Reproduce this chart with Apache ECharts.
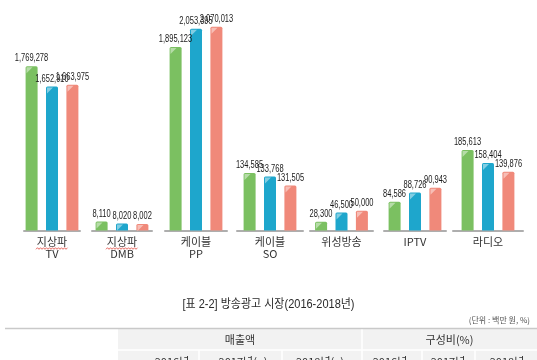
<!DOCTYPE html>
<html><head><meta charset="utf-8">
<script src="https://cdn.jsdelivr.net/npm/echarts@6/dist/echarts.min.js"></script>
<style>html,body{margin:0;padding:0;background:#fff}#c{width:537px;height:360px}</style>
</head><body><div id="c"></div>
<script>
const categories = ['지상파\nTV', '지상파\nDMB', '케이블\nPP', '케이블\nSO', '위성방송', 'IPTV', '라디오'];
const sales2016 = [1769278, 8110, 1895123, 134585, 28300, 84586, 185613];
const sales2017 = [1652910, 8020, 2053395, 133768, 46500, 88726, 158404];
const sales2018 = [1663975, 8002, 2070013, 131505, 50000, 90943, 139876];
const seriesSets = [sales2016, sales2017, sales2018];
const colors = ['#7bc061', '#1ea6cc', '#f0897a'];
// per-group (broken) value axis ranges, as in the infographic
const axisMin = [833000, 7721, 303300, 120330, 10940, 71510, 15930];
const axisMax = [2089500, 17247, 2216400, 175080, 445990, 171620, 480740];
const gridLeft = [24, 92, 165, 237, 310, 384, 453];
const gridWidth = [56, 60, 62, 66, 63, 62, 70];
const tableHead = ['매출액', '구성비(%)'];
const tableSub = ['2016년', '2017년(p)', '2018년(e)', '2016년', '2017년', '2018년'];
const tableSubX = [172, 243, 320, 390, 448, 507];

const chart = echarts.init(document.getElementById('c'));
const grid = [], xAxis = [], yAxis = [], series = [];
const BW = 12, STEP = 20.5;
categories.forEach((cat, i) => {
  grid.push({left: gridLeft[i], width: gridWidth[i], top: 10, bottom: 129.5});
  xAxis.push({
    type: 'category', gridIndex: i, data: [cat],
    axisLine: {lineStyle: {color: '#aeaeae', width: 2}},
    axisTick: {show: false},
    axisLabel: {color: '#333', fontSize: 11, lineHeight: 12, margin: 5,
      fontFamily: "'Noto Sans CJK KR', 'Noto Sans', sans-serif", interval: 0}
  });
  yAxis.push({type: 'value', gridIndex: i, min: axisMin[i], max: axisMax[i], show: false});
  seriesSets.forEach((arr, k) => {
    series.push({
      type: 'bar', xAxisIndex: i, yAxisIndex: i, data: [arr[i]],
      barWidth: BW, barGap: '70%',
      itemStyle: {color: colors[k], borderRadius: [1.5, 1.5, 0, 0]},
      z: 2
    });
  });
  // highlight triangle + condensed value label on each bar
  series.push({
    type: 'custom', xAxisIndex: i, yAxisIndex: i,
    data: seriesSets.map((arr, k) => [0, arr[i], k]),
    renderItem: (params, api) => {
      const pt = api.coord([api.value(0), api.value(1)]);
      const k = api.value(2);
      const cx = pt[0] + (k - 1) * STEP;
      const left = cx - BW / 2;
      const top = pt[1];
      return {type: 'group', children: [
        {type: 'polygon', shape: {points: [[left + 1, top + 1], [left + 7, top + 1], [left + 1, top + 7]]},
          style: {fill: 'rgba(255,255,255,0.45)'}, z2: 5},
        {type: 'text', x: cx, y: top - 2.5, scaleX: 0.75,
          style: {text: api.value(1).toLocaleString('en-US'), fill: '#1a1a1a',
            font: "10px 'Liberation Sans', sans-serif", align: 'center', verticalAlign: 'bottom'}, z2: 6}
      ]};
    },
    z: 3, silent: true
  });
});

const graphic = [
  {type: 'text', x: 268.5, y: 305, style: {text: '[표 2-2] 방송광고 시장(2016-2018년)', fill: '#2a2a2a',
    font: "12.5px 'Liberation Sans', 'Noto Sans CJK KR'", align: 'center', verticalAlign: 'middle'}, scaleX: 0.88},
  {type: 'text', x: 530, y: 320, style: {text: '(단위 : 백만 원, %)', fill: '#555',
    font: "8px 'Noto Sans CJK KR'", align: 'right', verticalAlign: 'middle'}},
  {type: 'rect', shape: {x: 118, y: 329, width: 419, height: 31}, style: {fill: '#f2f2f2'}},
  {type: 'line', shape: {x1: 5, y1: 328.5, x2: 537, y2: 328.5}, style: {stroke: '#c9c9c9', lineWidth: 1.5}},
  {type: 'line', shape: {x1: 118, y1: 350, x2: 537, y2: 350}, style: {stroke: '#fff', lineWidth: 1.5}},
  {type: 'line', shape: {x1: 362, y1: 329.5, x2: 362, y2: 360}, style: {stroke: '#fff', lineWidth: 1.5}},
  {type: 'text', x: 240, y: 340, style: {text: tableHead[0], fill: '#333', font: "11px 'Noto Sans CJK KR'", align: 'center', verticalAlign: 'middle'}},
  {type: 'text', x: 449.5, y: 340, style: {text: tableHead[1], fill: '#333', font: "11px 'Noto Sans CJK KR'", align: 'center', verticalAlign: 'middle'}}
];
[199, 282, 422, 475].forEach(x => graphic.push({type: 'line', shape: {x1: x, y1: 350, x2: x, y2: 360}, style: {stroke: '#fff', lineWidth: 1.5}}));
tableSub.forEach((t, j) => graphic.push({type: 'text', x: tableSubX[j], y: 356, style: {text: t, fill: '#333',
  font: "11px 'Noto Sans CJK KR'", align: 'center', verticalAlign: 'top'}}));
// red spell-check squiggles under "지상파"
[[36, 68], [106, 138]].forEach(([a, b]) => {
  const pts = [];
  for (let x = a, j = 0; x <= b; x += 1.5, j++) pts.push([x, 248.5 + (j % 2 ? -0.8 : 0.8)]);
  graphic.push({type: 'polyline', shape: {points: pts}, style: {stroke: '#e0443a', lineWidth: 0.8, fill: null}});
});

chart.setOption({backgroundColor: '#fff', animation: false, grid, xAxis, yAxis, series, graphic});
</script></body></html>
